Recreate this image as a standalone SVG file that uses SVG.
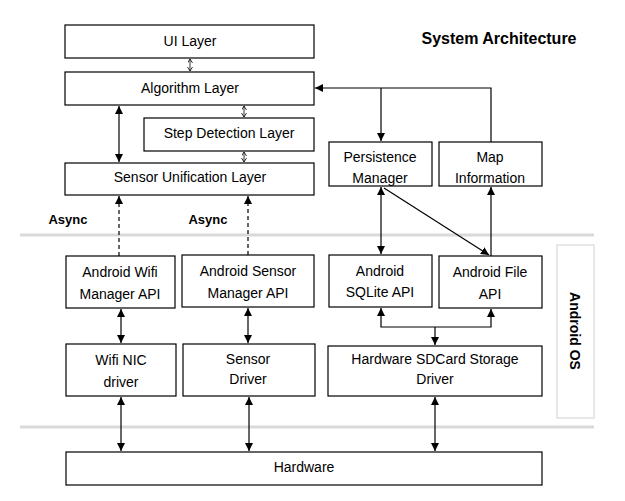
<svg xmlns="http://www.w3.org/2000/svg" width="625" height="501" viewBox="0 0 625 501">
<style>
.box{fill:#fff;stroke:#000;stroke-width:1.2}
.t{font-family:"Liberation Sans",Arial,sans-serif;font-size:14px;fill:#000;text-anchor:middle}
.b{font-family:"Liberation Sans",Arial,sans-serif;font-weight:bold;fill:#000}
.c{stroke:#000;stroke-width:1.2;fill:none}
.sm{stroke:#000;stroke-width:0.8;fill:none}
.sep{stroke:#d9d9d9;stroke-width:3}
</style>
<defs>
<marker id="ah" markerUnits="userSpaceOnUse" markerWidth="9" markerHeight="8" refX="8" refY="4" orient="auto-start-reverse"><path d="M0,0 L8,4 L0,8 z" fill="#000"/></marker>
<marker id="sa" markerUnits="userSpaceOnUse" markerWidth="6" markerHeight="6" refX="4" refY="2.5" orient="auto-start-reverse"><path d="M0,0 L4,2.5 L0,5" fill="none" stroke="#000" stroke-width="0.8"/></marker>
</defs>
<rect width="625" height="501" fill="#fff"/>
<line class="sep" x1="20" y1="235" x2="594" y2="235"/>
<line class="sep" x1="20" y1="427" x2="594" y2="427"/>
<text class="b" x="499" y="44" font-size="16" text-anchor="middle">System Architecture</text>
<text class="b" x="68" y="224" font-size="13" text-anchor="middle">Async</text>
<text class="b" x="208" y="224" font-size="13" text-anchor="middle">Async</text>
<g id="android-os"><rect x="557" y="245" width="37" height="173" fill="#fff" stroke="#d9d9d9" stroke-width="1.2"/><text class="b" font-size="14" text-anchor="middle" transform="translate(570,331) rotate(90)">Android OS</text></g>
<g id="connectors">
<line class="sm" x1="190" y1="59" x2="190" y2="71" marker-start="url(#sa)" marker-end="url(#sa)"/>
<line class="sm" x1="244" y1="106" x2="244" y2="117" marker-start="url(#sa)" marker-end="url(#sa)"/>
<line class="sm" x1="244" y1="152" x2="244" y2="162" marker-start="url(#sa)" marker-end="url(#sa)"/>
<line class="c" x1="119" y1="106" x2="119" y2="162" marker-start="url(#ah)" marker-end="url(#ah)"/>
<line class="c" x1="119" y1="256" x2="119" y2="196" stroke-dasharray="4,3" marker-end="url(#ah)"/>
<line class="c" x1="248" y1="255" x2="248" y2="196" stroke-dasharray="4,3" marker-end="url(#ah)"/>
<polyline class="c" points="491,142 491,88 315,88" marker-end="url(#ah)"/>
<line class="c" x1="381" y1="88" x2="381" y2="141" marker-end="url(#ah)"/>
<line class="c" x1="381" y1="187" x2="381" y2="254" marker-start="url(#ah)" marker-end="url(#ah)"/>
<line class="c" x1="384" y1="188" x2="489" y2="255" marker-end="url(#ah)"/>
<line class="c" x1="491" y1="256" x2="491" y2="187" marker-end="url(#ah)"/>
<polyline class="c" points="381,308 381,327 491,327 491,309" marker-start="url(#ah)" marker-end="url(#ah)"/>
<line class="c" x1="435" y1="327" x2="435" y2="345" marker-end="url(#ah)"/>
<line class="c" x1="121" y1="309" x2="121" y2="343" marker-start="url(#ah)" marker-end="url(#ah)"/>
<line class="c" x1="248" y1="308" x2="248" y2="343" marker-start="url(#ah)" marker-end="url(#ah)"/>
<line class="c" x1="121" y1="397" x2="121" y2="451" marker-start="url(#ah)" marker-end="url(#ah)"/>
<line class="c" x1="249" y1="397" x2="249" y2="451" marker-start="url(#ah)" marker-end="url(#ah)"/>
<line class="c" x1="435" y1="397" x2="435" y2="451" marker-start="url(#ah)" marker-end="url(#ah)"/>
</g>
<g id="ui-layer"><rect class="box" x="65" y="25" width="249" height="33"/><text class="t" x="190" y="46">UI Layer</text></g>
<g id="algorithm-layer"><rect class="box" x="65" y="72" width="249" height="33"/><text class="t" x="190" y="93">Algorithm Layer</text></g>
<g id="step-detection-layer"><rect class="box" x="144" y="118" width="170" height="33"/><text class="t" x="229" y="138">Step Detection Layer</text></g>
<g id="sensor-unification-layer"><rect class="box" x="65" y="163" width="249" height="32"/><text class="t" x="190" y="182">Sensor Unification Layer</text></g>
<g id="persistence-manager"><rect class="box" x="329" y="142" width="103" height="44"/><text class="t" x="380" y="162">Persistence</text><text class="t" x="380" y="183">Manager</text></g>
<g id="map-information"><rect class="box" x="439" y="142" width="103" height="44"/><text class="t" x="490" y="162">Map</text><text class="t" x="490" y="183">Information</text></g>
<g id="android-wifi-manager-api"><rect class="box" x="66" y="256" width="109" height="52"/><text class="t" x="120" y="277">Android Wifi</text><text class="t" x="120" y="299">Manager API</text></g>
<g id="android-sensor-manager-api"><rect class="box" x="182" y="255" width="132" height="52"/><text class="t" x="248" y="276">Android Sensor</text><text class="t" x="248" y="298">Manager API</text></g>
<g id="android-sqlite-api"><rect class="box" x="329" y="255" width="103" height="52"/><text class="t" x="380" y="276">Android</text><text class="t" x="380" y="297">SQLite API</text></g>
<g id="android-file-api"><rect class="box" x="439" y="256" width="103" height="52"/><text class="t" x="490" y="277">Android File</text><text class="t" x="490" y="299">API</text></g>
<g id="wifi-nic-driver"><rect class="box" x="66" y="344" width="110" height="52"/><text class="t" x="121" y="365">Wifi NIC</text><text class="t" x="121" y="387">driver</text></g>
<g id="sensor-driver"><rect class="box" x="183" y="344" width="132" height="52"/><text class="t" x="248" y="364">Sensor</text><text class="t" x="248" y="384">Driver</text></g>
<g id="sdcard-driver"><rect class="box" x="328" y="346" width="214" height="50"/><text class="t" x="435" y="364">Hardware SDCard Storage</text><text class="t" x="435" y="384">Driver</text></g>
<g id="hardware"><rect class="box" x="66" y="452" width="476" height="33"/><text class="t" x="304" y="472">Hardware</text></g>
</svg>
